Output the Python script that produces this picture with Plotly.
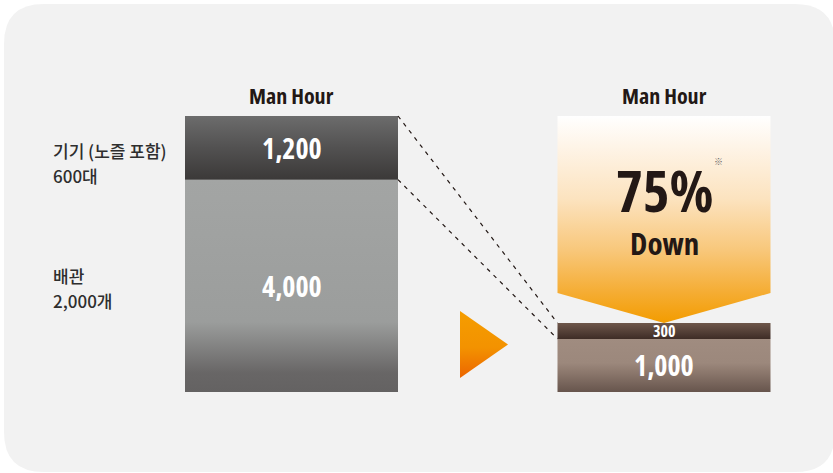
import plotly.graph_objects as go

# ---------------- data ----------------
categories = ["배관", "기기 (노즐 포함)"]        # stack order: bottom -> top
category_counts = ["2,000개", "600대"]
before_hours = [4000, 1200]
after_hours = [1000, 300]
column_titles = ["Man Hour", "Man Hour"]
reduction_word = "Down"
note_mark = "※"

# ---------------- layout constants ----------------
W, H = 833, 473
BASE_PX, TOP_PX = 392, 116          # pixel rows of stack base / tallest stack top
LX0, LX1 = 185, 398                 # left column
RX0, RX1 = 557.5, 770.5             # right column
COND = "'Open Sans', Roboto, sans-serif"
KR = "'Noto Sans CJK KR', 'Noto Sans', sans-serif"
INK = "#231815"

before_total = sum(before_hours)
after_total = sum(after_hours)
pct = round((1 - after_total / before_total) * 100)

k = (BASE_PX - TOP_PX) / before_total      # px per man-hour
y_min = -(H - BASE_PX) / k
y_max = BASE_PX / k


def ypx(py):
    return (BASE_PX - py) / k


def rect(x0, x1, y0, y1):
    return [x0, x1, x1, x0, x0], [y0, y0, y1, y1, y0]


def grad_poly(xs, ys, scale):
    return go.Scatter(x=xs, y=ys, fill="toself", mode="none", hoverinfo="skip",
                      fillgradient=dict(type="vertical", colorscale=scale),
                      showlegend=False)


def cond(t, size=None):
    st = "font-stretch:condensed"
    if size:
        st += f";font-size:{size}px"
    return f"<span style='{st}'>{t}</span>"


fig = go.Figure()

# colour ramps (bottom -> top) for each segment
left_scales = [
    [[0, "#646262"], [0.09, "#686666"], [0.33, "#9b9d9c"], [1, "#a3a5a4"]],
    [[0, "#3b3938"], [0.5, "#525151"], [1, "#6c6c6c"]],
]
right_scales = [
    [[0, "#67554d"], [0.35, "#8a766b"], [0.55, "#9c887c"], [1, "#a08c80"]],
    [[0, "#3e2c26"], [1, "#6e574b"]],
]

# left stack
base = 0
for v, sc in zip(before_hours, left_scales):
    xs, ys = rect(LX0, LX1, base, base + v)
    fig.add_trace(grad_poly(xs, ys, sc))
    base += v
# right stack
base = 0
for v, sc in zip(after_hours, right_scales):
    xs, ys = rect(RX0, RX1, base, base + v)
    fig.add_trace(grad_poly(xs, ys, sc))
    base += v

# reduction arrow (from before total down to after total)
shoulder = after_total + 30 / k
mid = (RX0 + RX1) / 2
fig.add_trace(grad_poly(
    [RX0, RX1, RX1, mid, RX0, RX0],
    [before_total, before_total, shoulder, after_total, shoulder, before_total],
    [[0, "#f39c00"], [0.15, "#f5ad34"], [0.35, "#f8c77a"], [0.6, "#fce3bf"],
     [0.85, "#fef4e7"], [1, "#ffffff"]]))

# middle play triangle
fig.add_trace(grad_poly(
    [460, 460, 508, 460],
    [ypx(311), ypx(378), ypx(344.5), ypx(311)],
    [[0, "#ec6500"], [0.45, "#f39200"], [1, "#f59d00"]]))

# dashed connector lines
for yb, ya in [(before_total, after_total), (before_hours[0], after_hours[0])]:
    fig.add_trace(go.Scatter(x=[LX1, RX0], y=[yb, ya], mode="lines", hoverinfo="skip",
                             line=dict(color=INK, width=1.2, dash="4px,5px"),
                             showlegend=False))

ann = []
# column titles
for cx, t in zip([(LX0 + LX1) / 2, mid], column_titles):
    ann.append(dict(x=cx, y=ypx(95), text=cond(t), showarrow=False,
                    font=dict(family=COND, size=22, color=INK, weight="bold")))

# value labels
base = 0
for v in before_hours:
    ann.append(dict(x=(LX0 + LX1) / 2, y=base + v / 2, text=cond(f"{v:,}"), showarrow=False,
                    font=dict(family=COND, size=28, color="white", weight="bold")))
    base += v
base = 0
for v in after_hours:
    size = 28 if v * k > 30 else 16
    ann.append(dict(x=mid, y=base + v / 2, text=cond(f"{v:,}"), showarrow=False,
                    font=dict(family=COND, size=size, color="white", weight="bold")))
    base += v

# arrow texts (one block: big percentage over the word)
ann.append(dict(x=mid, y=ypx(207.5),
                text=cond(f"{pct}%", 57) + "<br>" + cond(reduction_word, 31),
                showarrow=False,
                font=dict(family=COND, size=33, color=INK, weight="bold")))
ann.append(dict(x=712, y=ypx(161), text=note_mark, showarrow=False, xanchor="left",
                font=dict(family=KR, size=9, color="#666666")))

# category labels on the left
label_rows = [(275, 300), (150, 175)]
for name, cnt, (r1, r2) in zip(categories, category_counts, label_rows):
    ann.append(dict(x=51, y=ypx(r1), text=name, showarrow=False, xanchor="left",
                    font=dict(family=KR, size=17, color="#2e2e2e", weight=500)))
    ann.append(dict(x=51, y=ypx(r2), text=cnt, showarrow=False, xanchor="left",
                    font=dict(family=KR, size=17, color="#2e2e2e", weight=500)))


# rounded background panel (paper coords)
def P(px, py):
    return f"{px / W:.5f},{1 - py / H:.5f}"


x0, x1, y0, y1, r = 4, 835, 4, 472, 40
path = (f"M{P(x0 + r, y0)} L{P(x1 - r, y0)} Q{P(x1, y0)} {P(x1, y0 + r)} "
        f"L{P(x1, y1 - r)} Q{P(x1, y1)} {P(x1 - r, y1)} L{P(x0 + r, y1)} "
        f"Q{P(x0, y1)} {P(x0, y1 - r)} L{P(x0, y0 + r)} Q{P(x0, y0)} {P(x0 + r, y0)} Z")

fig.update_layout(
    width=W, height=H, margin=dict(l=0, r=0, t=0, b=0),
    paper_bgcolor="white", plot_bgcolor="rgba(0,0,0,0)",
    xaxis=dict(range=[0, W], visible=False, fixedrange=True),
    yaxis=dict(range=[y_min, y_max], visible=False, fixedrange=True),
    annotations=ann,
    shapes=[dict(type="path", xref="paper", yref="paper", path=path,
                 fillcolor="#f2f2f2", line=dict(width=0), layer="below")],
    showlegend=False,
)

fig.write_html("out.html", config={"displayModeBar": False},
               post_script="document.body.style.margin='0px';")
